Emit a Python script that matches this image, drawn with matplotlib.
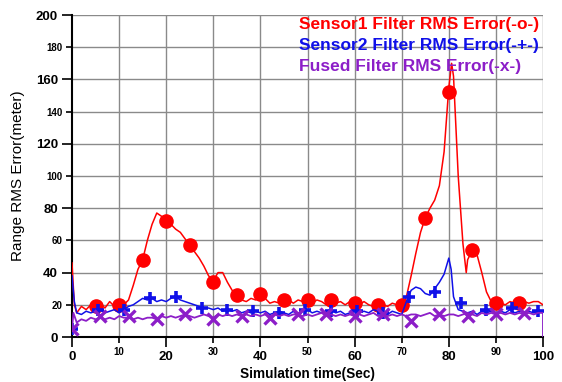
import matplotlib
matplotlib.use("Agg")
import matplotlib.pyplot as plt
from matplotlib.ticker import FixedLocator, FixedFormatter

plt.rcParams['font.family'] = ['Liberation Sans', 'DejaVu Sans']

# ---- data ----
t_red = [0, 0.5] + list(range(1, 81)) + [80.6, 81, 82, 83, 83.7, 84, 85, 86, 87, 88, 89] + list(range(90, 101))
red = [46, 20,
       15, 19, 17, 20, 19, 21, 18, 22, 19, 21, 20, 23, 32, 42, 48, 60, 70, 77, 75, 73,
       70, 67, 65, 61, 57, 53, 49, 44, 38, 35, 40, 40, 34, 29, 26, 23, 22, 24, 23, 26,
       24, 21, 22, 21, 22, 23, 21, 23, 22, 23, 21, 23, 22, 20, 23, 21, 22, 20, 22, 21,
       20, 22, 20, 19, 21, 20, 19, 21, 20, 19, 25, 38, 52, 65, 74, 80, 85, 94, 115, 155,
       170, 162, 100, 58, 40, 48, 54, 51, 40, 28, 22,
       20, 21, 20, 22, 21, 21, 22, 21, 22, 22, 20]
t_red_mk = [5, 10, 15, 20, 25, 30, 35, 40, 45, 50, 55, 60, 65, 70, 75, 80, 85, 90, 95]
red_mk = [19, 20, 48, 72, 57, 34, 26, 27, 23, 23, 23, 21, 20, 20, 74, 152, 54, 21, 21]

t_blue = [0, 0.5] + list(range(1, 81)) + [80.5] + list(range(81, 101))
blue = [38, 22,
        15, 14, 16, 15, 16, 17, 15, 16, 17, 15, 17, 19, 20, 22, 24, 23, 24, 22, 23, 22,
        24, 25, 23, 22, 21, 20, 19, 18, 18, 17, 18, 16, 17, 16, 17, 15, 16, 15, 16, 15,
        16, 14, 15, 16, 15, 14, 16, 13, 16, 17, 15, 16, 15, 16, 17, 15, 16, 14, 15, 16,
        15, 16, 15, 17, 16, 15, 14, 16, 15, 14, 22, 29, 31, 30, 27, 26, 30, 34, 39, 49,
        42,
        25, 17, 16, 15, 16, 14, 16, 15, 16, 15, 16, 15, 17, 15, 16, 15, 16, 15, 16, 15]
t_blue_mk = [0, 5.5, 11, 16.5, 22, 27.5, 33, 38.5, 44, 49.5, 55, 60.5, 66, 71.5, 77, 82.5, 88, 93.5, 99]
blue_mk = [5, 17, 17, 24, 25, 18, 17, 16, 15, 17, 16, 16, 15, 25, 28, 21, 17, 18, 16]

t_purple = [0, 0.3] + list(range(1, 101)) + [100]
purple = [5, 15,
          9, 11, 10, 12, 11, 12, 11, 12, 11, 13, 12, 12, 11, 12, 11, 12, 12, 11, 13, 12,
          13, 12, 13, 14, 13, 12, 13, 14, 13, 12, 14, 13, 14, 13, 14, 13, 14, 13, 14, 13,
          14, 13, 14, 13, 14, 13, 14, 14, 13, 14, 13, 14, 15, 13, 14, 13, 14, 13, 14, 13,
          14, 13, 14, 15, 13, 14, 13, 14, 13, 14, 13, 14, 14, 13, 14, 15, 13, 14, 13, 14,
          14, 13, 14, 15, 14, 13, 15, 14, 15, 14, 15, 14, 15, 14, 15, 14, 15, 14, 15, 15,
          0]
t_purple_mk = [0, 6, 12, 18, 24, 30, 36, 42, 48, 54, 60, 66, 72, 78, 84, 90, 96]
purple_mk = [5, 13, 13, 11, 14, 11, 13, 12, 14, 14, 13, 14, 10, 14, 13, 14, 15]

legend_labels = ["Sensor1 Filter RMS Error(-o-)",
                 "Sensor2 Filter RMS Error(-+-)",
                 "Fused Filter RMS Error(-x-)"]

RED = '#ff0000'
BLUE = '#1010e8'
PURPLE = '#8c1ec8'

fig = plt.figure(figsize=(5.62, 3.82), dpi=100)
ax = fig.add_axes([72/562, 45/382, 471/562, 322/382])

ax.set_xlim(0, 100)
ax.set_ylim(0, 200)

# grid
for gx in range(10, 101, 10):
    ax.axvline(gx, color='#8a8a8a', lw=1.0, zorder=0)
for gy in range(20, 201, 20):
    ax.axhline(gy, color='#8a8a8a', lw=1.0, zorder=0)

ax.plot(t_red, red, color=RED, lw=1.1, zorder=3)
ax.plot(t_red_mk, red_mk, ls='none', marker='o', ms=9.5, color=RED, zorder=3)
ax.plot(t_blue, blue, color=BLUE, lw=1.1, zorder=4)
ax.plot(t_blue_mk, blue_mk, ls='none', marker='+', ms=9, mew=2.6, color=BLUE, zorder=4)
ax.plot(t_purple, purple, color=PURPLE, lw=1.3, zorder=5)
ax.plot(t_purple_mk, purple_mk, ls='none', marker='x', ms=8, mew=2.4, color=PURPLE, zorder=5)

for s in ['top', 'right']:
    ax.spines[s].set_visible(False)
ax.spines['left'].set_linewidth(1.5)
ax.spines['bottom'].set_linewidth(1.5)

ax.xaxis.set_major_locator(FixedLocator([0, 20, 40, 60, 80, 100]))
ax.xaxis.set_minor_locator(FixedLocator([10, 30, 50, 70, 90]))
ax.xaxis.set_minor_formatter(FixedFormatter(['10', '30', '50', '70', '90']))
ax.yaxis.set_major_locator(FixedLocator([0, 40, 80, 120, 160, 200]))
ax.yaxis.set_minor_locator(FixedLocator([20, 60, 100, 140, 180]))
ax.yaxis.set_minor_formatter(FixedFormatter(['20', '60', '100', '140', '180']))

ax.tick_params(axis='both', which='major', length=7, width=1.2, labelsize=9.5, pad=3)
ax.tick_params(axis='both', which='minor', length=4, width=1.2, labelsize=7, pad=3)
for lab in ax.get_xticklabels() + ax.get_yticklabels():
    lab.set_fontweight('bold')
for lab in ax.get_xticklabels(minor=True) + ax.get_yticklabels(minor=True):
    lab.set_fontweight('bold')

ax.set_xlabel("Simulation time(Sec)", fontsize=9.8, fontweight='bold', labelpad=3)
ax.set_ylabel("Range RMS Error(meter)", fontsize=11, labelpad=8)

for i, (lab, col) in enumerate(zip(legend_labels, [RED, BLUE, PURPLE])):
    ax.text(0.482, 0.969 - i * 0.064, lab, transform=ax.transAxes, ha='left', va='center',
            fontsize=12.5, fontweight='bold', color=col, zorder=6)

fig.savefig('out.png', dpi=100)
